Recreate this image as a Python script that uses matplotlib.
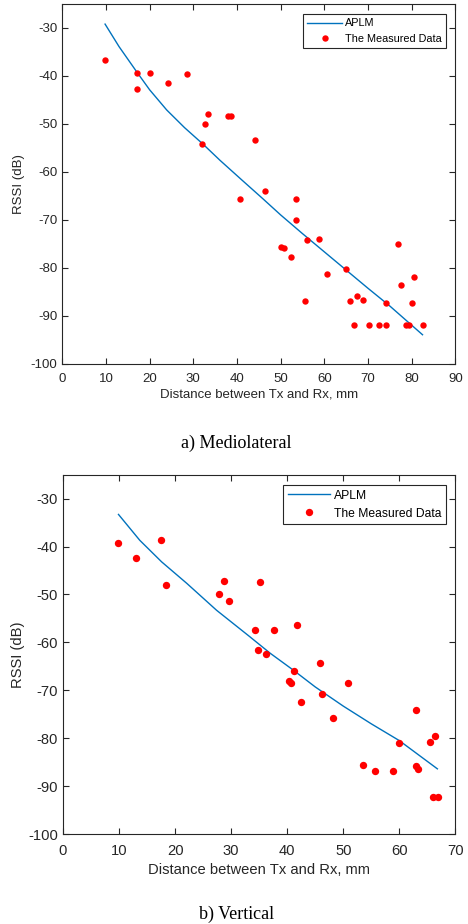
import numpy as np
import matplotlib.pyplot as plt

# mediolateral measurements (distance in mm, RSSI in dB)
ml_dist = [9.8, 17.1, 17.1, 20.2, 24.1, 28.6, 33.4, 32.7, 32.1, 38.0, 38.6,
           44.1, 46.4, 40.8, 53.6, 53.6, 50.0, 50.7, 52.4, 56.0, 58.9, 55.6,
           60.7, 65.0, 65.9, 66.9, 67.5, 68.9, 70.3, 72.6, 74.2, 74.2, 76.9,
           77.5, 80.5, 80.2, 78.7, 79.3, 82.7]
ml_rssi = [-36.7, -39.3, -42.7, -39.5, -41.4, -39.7, -48.0, -50.0, -54.2, -48.4, -48.4,
           -53.4, -64.0, -65.6, -65.6, -70.0, -75.7, -76.0, -77.7, -74.3, -74.0, -86.9,
           -81.4, -80.3, -87.0, -92.0, -86.0, -86.7, -92.0, -92.0, -92.0, -87.4, -75.0,
           -83.7, -82.0, -87.4, -92.0, -92.0, -92.0]
ml_fit_dist = [9.8, 13.0, 17.0, 20.0, 23.9, 28.0, 32.3, 36.1, 41.1, 45.9, 50.0, 55.0,
               60.0, 65.0, 70.0, 75.0, 82.5]
ml_fit_rssi = [-29.2, -33.9, -39.1, -42.9, -47.1, -50.8, -54.3, -57.6, -61.7, -65.6,
               -69.0, -72.9, -76.7, -80.5, -84.3, -88.0, -94.0]

# vertical measurements
v_dist = [9.8, 13.1, 17.4, 18.4, 27.8, 28.7, 29.6, 35.1, 34.3, 37.7, 41.8,
          34.8, 36.3, 45.8, 41.3, 40.3, 40.7, 42.5, 46.3, 48.1, 50.8, 62.9,
          60.0, 65.5, 66.4, 53.5, 55.6, 58.8, 63.0, 63.4, 66.1, 66.9]
v_rssi = [-39.3, -42.4, -38.6, -48.0, -50.0, -47.1, -51.4, -47.4, -57.4, -57.4, -56.4,
          -61.5, -62.4, -64.4, -66.0, -68.1, -68.4, -72.5, -70.8, -75.8, -68.4, -74.1,
          -81.1, -80.8, -79.5, -85.5, -86.8, -86.8, -85.8, -86.5, -92.2, -92.2]
v_fit_dist = [9.9, 13.7, 17.6, 22.1, 27.4, 33.2, 37.0, 41.1, 45.0, 50.0, 55.0, 60.0, 66.8]
v_fit_rssi = [-33.3, -38.7, -43.2, -47.7, -53.3, -58.7, -62.3, -65.8, -69.3, -73.3,
              -77.0, -80.5, -86.4]

blue = '#0072BD'
ink = '#262626'
plt.rcParams['font.family'] = ['Liberation Sans', 'DejaVu Sans']
plt.rcParams['axes.unicode_minus'] = False

fig = plt.figure(figsize=(4.68, 9.24), dpi=100)


def panel(rect, x, y, fx, fy, xmax, fs, lfs, ms, hl, tpad, xlpad, caption, cap_y):
    ax = fig.add_axes(rect)
    ax.plot(fx, fy, color=blue, lw=1.0, label='APLM')
    ax.plot(x, y, 'o', color='red', ms=ms, mec='none', label='The Measured Data')
    ax.set_xlim(0, xmax)
    ax.set_ylim(-100, -25)
    ax.set_xticks(np.arange(0, xmax + 1, 10))
    ax.set_yticks(np.arange(-100, -29, 10))
    ax.tick_params(direction='in', top=True, right=True, length=4, width=0.8,
                   labelsize=fs, colors=ink)
    ax.tick_params(axis='x', pad=tpad)
    for s in ax.spines.values():
        s.set_linewidth(0.8)
        s.set_color(ink)
    ax.set_xlabel('Distance between Tx and Rx, mm', fontsize=fs, color=ink, labelpad=xlpad)
    ax.set_ylabel('RSSI (dB)', fontsize=fs, color=ink)
    ax.yaxis.set_label_coords(-0.096, 0.5)
    leg = ax.legend(loc='upper right', bbox_to_anchor=(0.977, 0.972), fontsize=lfs,
                    fancybox=False, framealpha=1, edgecolor=ink,
                    borderpad=0.4, handlelength=hl, handletextpad=0.3,
                    labelspacing=0.5, borderaxespad=0)
    leg.get_frame().set_linewidth(0.8)
    fig.text(0.505, cap_y, caption, ha='center', va='center',
             family='Liberation Serif', fontsize=13)
    return ax


panel([0.1331, 0.6066, 0.8397, 0.3891], ml_dist, ml_rssi, ml_fit_dist, ml_fit_rssi,
      90, 9.5, 7.8, 4.6, 3.2, 6.5, 3.0, 'a) Mediolateral', 1 - 443 / 924)
panel([0.1346, 0.0974, 0.8383, 0.3889], v_dist, v_rssi, v_fit_dist, v_fit_rssi,
      70, 10.6, 8.7, 5.3, 3.5, 7.0, 4.0, 'b) Vertical', 1 - 914 / 924)

fig.savefig('out.png', dpi=100)
